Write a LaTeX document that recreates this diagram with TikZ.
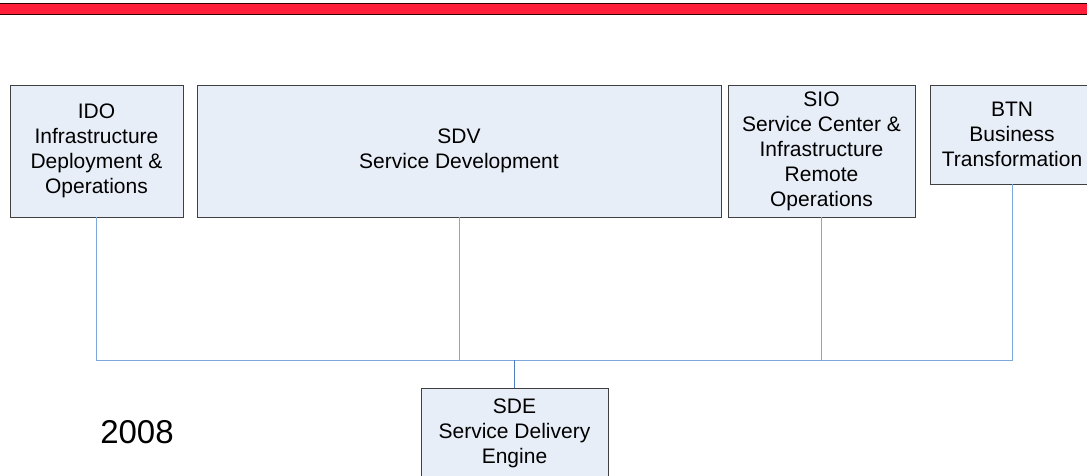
\documentclass[tikz,border=0pt]{standalone}
\usepackage{fontspec}
\setmainfont{Liberation Sans}
\definecolor{boxfill}{HTML}{E8EEF7}
\definecolor{boxline}{HTML}{404040}
\definecolor{conn}{HTML}{7FA7DC}
\definecolor{connd}{HTML}{4F7FC0}
\definecolor{barred}{HTML}{FF1F3A}
\begin{document}
\begin{tikzpicture}[x=1pt,y=-1pt,
  orgbox/.style={draw=boxline,fill=boxfill,line width=0.8pt,inner sep=0pt,align=center,
    font=\fontsize{21}{25}\selectfont},
  conline/.style={draw=conn,line width=1pt},
  conlined/.style={draw=connd,line width=1.4pt}]
\useasboundingbox (0,0) rectangle (1087,475);
\clip (0,0) rectangle (1087,475);
\fill[white] (0,0) rectangle (1087,475);
% red bar
\draw[fill=barred,draw=black!80!red,line width=1pt] (-5,3.5) rectangle (1092,14.5);
% boxes
\node[orgbox,minimum width=173pt,minimum height=132pt] (ido) at (96.5,151) {IDO\\Infrastructure\\Deployment \&\\Operations};
\node[orgbox,minimum width=524pt,minimum height=132pt] (sdv) at (459,151) {SDV\\Service Development};
\node[orgbox,minimum width=187pt,minimum height=132pt] (sio) at (821.5,151) {SIO\\Service Center \&\\Infrastructure\\Remote\\Operations};
\node[orgbox,minimum width=164pt,minimum height=99pt] (btn) at (1012,134.5) {BTN\\Business\\Transformation};
\node[orgbox,minimum width=187pt,minimum height=90pt] (sde) at (514.5,433) {SDE\\Service Delivery\\Engine};
\node[font=\fontsize{33}{38}\selectfont,inner sep=0pt] (yr) at (137,432) {2008};
% connectors
\coordinate (bus) at (0,360);
\draw[conline] (ido.south) |- (btn.south |- bus) -- (btn.south);
\draw[conline] (sdv.south) -- (sdv.south |- bus);
\draw[conline] (sio.south) -- (sio.south |- bus);
\draw[conlined] (sde.north) -- (sde.north |- bus);
\end{tikzpicture}
\end{document}
